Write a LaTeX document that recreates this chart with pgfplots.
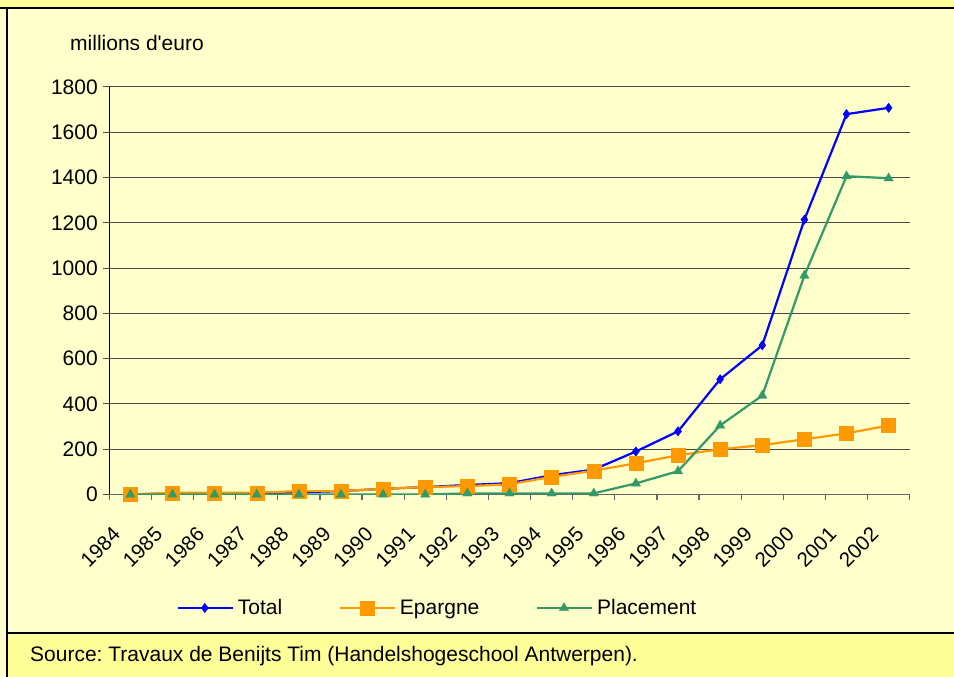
\documentclass[border=0pt]{standalone}
\usepackage{pgfplots}
\pgfplotsset{compat=1.18}
\usepackage{fontspec}
\setmainfont{Liberation Sans}
\definecolor{bgyel}{HTML}{FFFFCC}
\definecolor{stripyel}{HTML}{FFFF99}
\definecolor{cTotal}{HTML}{0000FF}
\definecolor{cEp}{HTML}{FF9900}
\definecolor{cPl}{HTML}{339966}
\frenchspacing
\begin{document}
\begin{tikzpicture}
\path[use as bounding box] (0pt,0pt) rectangle (954pt,677pt);
\fill[bgyel] (0pt,0pt) rectangle (954pt,677pt);
\fill[stripyel] (0pt,669pt) rectangle (954pt,677pt);
\fill[stripyel] (7pt,0pt) rectangle (954pt,44pt);
\draw[black, line width=1.5pt] (0pt,669pt) -- (954pt,669pt);
\draw[black, line width=1.5pt] (7pt,0pt) -- (7pt,669pt);
\draw[black, line width=1.5pt] (7pt,44pt) -- (954pt,44pt);
\node[anchor=base west, inner sep=0] at (70pt,626.3pt) {\fontsize{21}{25}\selectfont millions d\textquotesingle euro};
\node[anchor=west, inner sep=0] at (30pt,21pt) {\fontsize{21}{25}\selectfont Source: Travaux de Benijts Tim (Handelshogeschool Antwerpen).};
\begin{axis}[
  at={(109.3pt,182.5pt)}, anchor=south west,
  scale only axis, width=800.4pt, height=407.5pt,
  xmin=-0.5, xmax=18.5, ymin=0, ymax=1800,
  xtick={0,...,18},
  xticklabels={1984,1985,1986,1987,1988,1989,1990,1991,1992,1993,1994,1995,1996,1997,1998,1999,2000,2001,2002},
  minor xtick={-0.5,0.5,...,18.5},
  ytick={0,200,...,1800},
  ymajorgrids, major grid style={black!72, line width=1pt},
  axis x line*=bottom, axis y line*=left,
  x axis line style={black!60, line width=1.5pt, -},
  y axis line style={black, line width=1.2pt, -},
  tick align=outside,
  major tick length=6pt, minor tick length=6pt,
  xtick style={draw=none},
  minor x tick style={black!60, line width=1.2pt, draw=black!60},
  ytick style={black!70, line width=1pt},
  /pgf/number format/assume math mode=true,
  /pgf/number format/1000 sep={},
  yticklabel style={font=\fontsize{21}{25}\selectfont, xshift=-2pt},
  xticklabel style={font=\fontsize{20.5}{24}\selectfont, inner sep=0pt, xshift=-19pt, yshift=-25pt, rotate=45, anchor=north east},
  legend columns=3,
  legend style={at={(0.084,-0.2785)}, anchor=west, draw=none, fill=none, inner xsep=0pt,
    font=\fontsize{21}{25}\selectfont,
    /tikz/every even column/.append style={column sep=52.5pt},
    nodes={inner xsep=4pt}},
  legend image code/.code={\draw[mark repeat=2, mark phase=2] plot coordinates {(0pt,0pt) (27pt,0pt) (55pt,0pt)};},
]
\addplot[cTotal, line width=2.2pt, mark=diamond*, mark size=4.6pt, mark options={fill=cTotal, draw=cTotal, line width=0.5pt}] coordinates {
(0,0) (1,5) (2,5) (3,5) (4,10) (5,15) (6,25) (7,33) (8,42) (9,50) (10,85) (11,110) (12,190) (13,279) (14,509) (15,659) (16,1214) (17,1680) (18,1708)};
\addlegendentry{Total}
\addplot[cEp, line width=2.2pt, mark=square*, mark size=7pt, mark options={fill=cEp, draw=cEp, line width=0.3pt}] coordinates {
(0,0) (1,8) (2,8) (3,8) (4,15) (5,15) (6,25) (7,33) (8,37) (9,45) (10,78) (11,105) (12,138) (13,173) (14,200) (15,218) (16,244) (17,270) (18,305)};
\addlegendentry{Epargne}
\addplot[cPl, line width=2.2pt, mark=triangle*, mark size=5.4pt, mark options={fill=cPl, draw=cPl, line width=0.3pt}] coordinates {
(0,0) (1,0) (2,0) (3,0) (4,0) (5,0) (6,0) (7,0) (8,5) (9,5) (10,5) (11,5) (12,49) (13,103) (14,305) (15,437) (16,967) (17,1406) (18,1397)};
\addlegendentry{Placement}
\end{axis}
\end{tikzpicture}
\end{document}
